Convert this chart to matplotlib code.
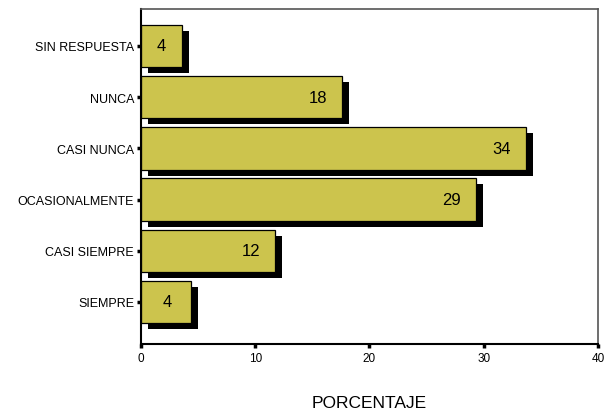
import matplotlib
matplotlib.use("Agg")
import matplotlib.pyplot as plt
from matplotlib import transforms

categorias = ["SIEMPRE", "CASI SIEMPRE", "OCASIONALMENTE", "CASI NUNCA", "NUNCA", "SIN RESPUESTA"]
porcentajes = [4.4, 11.7, 29.3, 33.7, 17.6, 3.6]
etiquetas = ["4", "12", "29", "34", "18", "4"]

plt.rcParams['font.family'] = ['Liberation Sans', 'DejaVu Sans']

fig = plt.figure(figsize=(6.13, 4.14), dpi=100)
ax = fig.add_axes([0.230, 0.1667, 0.7455, 0.8091])

pos = list(range(len(categorias)))

# sombra negra desplazada
sombra = transforms.offset_copy(ax.transData, fig=fig, x=7, y=-6, units='dots')
ax.barh(pos, porcentajes, height=0.83, color='black', transform=sombra, zorder=1)
ax.barh(pos, porcentajes, height=0.83, color='#CCC44D', edgecolor='black', linewidth=0.9, zorder=2)

for p, v, t in zip(pos, porcentajes, etiquetas):
    ax.text(max(v - 2.1, v / 2), p, t, ha='center', va='center', fontsize=12, zorder=3)

ax.set_xlim(0, 40)
ax.set_ylim(-0.82, 5.72)
ax.set_xticks([0, 10, 20, 30, 40])
ax.set_yticks(pos)
ax.set_yticklabels(categorias)

ax.tick_params(axis='y', direction='out', length=3, width=2.5, labelsize=9, pad=2)
ax.tick_params(axis='x', direction='out', length=3, width=2.5, labelsize=8.5, pad=3)

for s in ['left', 'bottom']:
    ax.spines[s].set_linewidth(1.5)
    ax.spines[s].set_color('black')
for s in ['top', 'right']:
    ax.spines[s].set_linewidth(1.2)
    ax.spines[s].set_color('#555555')

ax.set_xlabel("PORCENTAJE", fontsize=12.5, labelpad=22)

fig.savefig('out.png', dpi=100, facecolor='white')
